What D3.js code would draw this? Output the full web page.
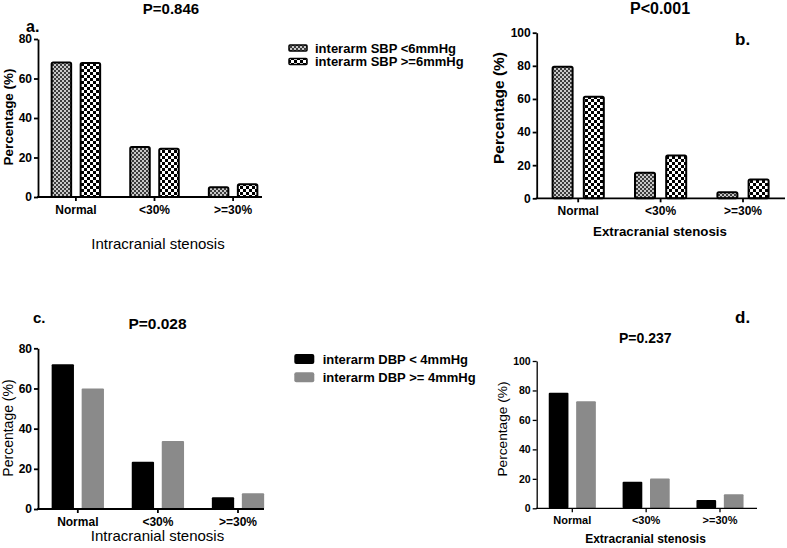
<!DOCTYPE html>
<html>
<head>
<meta charset="utf-8">
<script src="https://cdn.jsdelivr.net/npm/d3@7/dist/d3.min.js"></script>
<style>
  html, body { margin: 0; padding: 0; background: #fff; }
  svg { display: block; font-family: "Liberation Sans", Arial, sans-serif; }
</style>
</head>
<body>
<svg id="chart" width="787" height="548"></svg>
<script>
// ---------------- DATA ----------------
const categories = ["Normal", "<30%", ">=30%"];

const sbpSeries = ["interarm SBP <6mmHg", "interarm SBP >=6mmHg"];
const dbpSeries = ["interarm DBP < 4mmHg", "interarm DBP >= 4mmHg"];

// panel a: intracranial stenosis by interarm SBP
const aLow  = [68.6, 25.8, 5.5];
const aHigh = [68.3, 25.0, 7.0];
// panel b: extracranial stenosis by interarm SBP
const bLow  = [80.0, 16.0, 4.2];
const bHigh = [62.0, 26.5, 12.0];
// panel c: intracranial stenosis by interarm DBP
const cLow  = [72.0, 23.5, 5.8];
const cHigh = [60.0, 33.8, 7.8];
// panel d: extracranial stenosis by interarm DBP
const dLow  = [78.5, 18.0, 5.6];
const dHigh = [72.6, 20.3, 9.5];

const ticks80  = [0, 20, 40, 60, 80];
const ticks100 = [0, 20, 40, 60, 80, 100];

const pValues = ["P=0.846", "P<0.001", "P=0.028", "P=0.237"];
const panelLetters = ["a.", "b.", "c.", "d."];
const xTitles = ["Intracranial stenosis", "Extracranial stenosis", "Intracranial stenosis", "Extracranial stenosis"];
const yTitle = "Percentage (%)";

// ---------------- LAYOUT ----------------
const svg = d3.select("#chart");
const defs = svg.append("defs");

// fine grey checker pattern
const p1 = defs.append("pattern").attr("id", "patFine")
  .attr("patternUnits", "userSpaceOnUse").attr("width", 4).attr("height", 4);
p1.append("rect").attr("width", 4).attr("height", 4).attr("fill", "#c8c8c8");
p1.append("rect").attr("width", 2).attr("height", 2).attr("fill", "#3c3c3c");
p1.append("rect").attr("x", 2).attr("y", 2).attr("width", 2).attr("height", 2).attr("fill", "#3c3c3c");

// coarse black/white checker pattern
const p2 = defs.append("pattern").attr("id", "patCoarse")
  .attr("patternUnits", "userSpaceOnUse").attr("width", 6).attr("height", 6);
p2.append("rect").attr("width", 6).attr("height", 6).attr("fill", "#ffffff");
p2.append("rect").attr("width", 3).attr("height", 3).attr("fill", "#000");
p2.append("rect").attr("x", 3).attr("y", 3).attr("width", 3).attr("height", 3).attr("fill", "#000");

const panels = [
  { low: aLow, high: aHigh, ticks: ticks80, yMax: 80, x0: 38, xEnd: 262, y0: 197, yTop: 39,
    c0: 75.9, step: 78.6, pairW: 50.5, gap: 7.5, fills: ["url(#patFine)", "url(#patCoarse)"], stroke: true,
    tickFont: 12, xTickFont: 12, axisW: 1.8,
    title: { x: 171, y: 13.5, size: 15 }, letter: { x: 26, y: 32, size: 16 },
    xt: { x: 158, y: 249, size: 15, weight: "normal" },
    yt: { x: 8, y: 117, size: 13.4, weight: "bold" } },
  { low: bLow, high: bHigh, ticks: ticks100, yMax: 100, x0: 536.7, xEnd: 785, y0: 198.3, yTop: 32.7,
    c0: 578.2, step: 82.4, pairW: 53.2, gap: 9.2, fills: ["url(#patFine)", "url(#patCoarse)"], stroke: true,
    tickFont: 12, xTickFont: 12, axisW: 1.8,
    title: { x: 660, y: 14, size: 16 }, letter: { x: 735, y: 45, size: 17 },
    xt: { x: 660, y: 236, size: 13.3, weight: "bold" },
    yt: { x: 498, y: 108, size: 15.5, weight: "bold" } },
  { low: cLow, high: cHigh, ticks: ticks80, yMax: 80, x0: 38, xEnd: 264, y0: 509, yTop: 348.3,
    c0: 77.8, step: 80.1, pairW: 52.3, gap: 7.7, fills: ["#000000", "#8a8a8a"], stroke: false,
    tickFont: 12, xTickFont: 12, axisW: 1.8,
    title: { x: 157.5, y: 329, size: 15.5 }, letter: { x: 33, y: 323, size: 15 },
    xt: { x: 157.5, y: 541, size: 15, weight: "normal" },
    yt: { x: 8, y: 428, size: 14, weight: "normal" } },
  { low: dLow, high: dHigh, ticks: ticks100, yMax: 100, x0: 536.7, xEnd: 757, y0: 508.3, yTop: 361,
    c0: 572.3, step: 73.85, pairW: 47.1, gap: 7.7, fills: ["#000000", "#8a8a8a"], stroke: false,
    tickFont: 10.5, xTickFont: 11, axisW: 1.3,
    title: { x: 645.3, y: 343, size: 14 }, letter: { x: 735, y: 323, size: 17 },
    xt: { x: 645.5, y: 543, size: 12, weight: "bold" },
    yt: { x: 502, y: 429, size: 13.7, weight: "normal" } }
];

panels.forEach((p, i) => {
  const g = svg.append("g");
  const y = d3.scaleLinear().domain([0, p.yMax]).range([p.y0, p.yTop]);
  const x = d3.scaleBand().domain(categories)
    .range([p.c0 - p.step / 2, p.c0 + p.step * 2.5]).padding(0);
  const barW = (p.pairW - p.gap) / 2;
  const barX = (cat, s) => x(cat) + x.bandwidth() / 2 + (s === 0 ? -p.pairW / 2 : p.gap / 2);

  const rows = [];
  categories.forEach((c, k) => {
    rows.push({ cat: c, s: 0, v: p.low[k] });
    rows.push({ cat: c, s: 1, v: p.high[k] });
  });

  const sw = p.stroke ? 2 : 0;
  g.selectAll("rect.bar").data(rows).join("rect")
    .attr("class", "bar")
    .attr("x", d => barX(d.cat, d.s) + sw / 2)
    .attr("width", barW - sw)
    .attr("y", d => y(d.v) + sw / 2)
    .attr("height", d => y(0) - y(d.v) - sw / 2)
    .attr("fill", d => p.fills[d.s])
    .attr("stroke", p.stroke ? "#000" : "none")
    .attr("stroke-width", sw)
    .attr("rx", p.stroke ? 1.5 : 1);

  // y axis
  const ya = g.append("g").attr("transform", `translate(${p.x0},0)`)
    .call(d3.axisLeft(y).tickValues(p.ticks).tickSize(4).tickSizeOuter(0).tickPadding(2));
  ya.select(".domain").attr("stroke-width", p.axisW);
  ya.selectAll(".tick line").attr("stroke-width", p.axisW);
  ya.selectAll(".tick text").attr("font-size", p.tickFont).attr("font-weight", "bold")
    .attr("font-family", "Liberation Sans, Arial, sans-serif").attr("fill", "#000");

  // x axis
  const xa = g.append("g").attr("transform", `translate(0,${p.y0})`)
    .call(d3.axisBottom(x).tickSize(4).tickSizeOuter(0).tickPadding(4));
  xa.select(".domain").remove();
  xa.selectAll(".tick line").attr("stroke-width", p.axisW);
  xa.selectAll(".tick text").attr("font-size", p.xTickFont).attr("font-weight", "bold")
    .attr("font-family", "Liberation Sans, Arial, sans-serif").attr("fill", "#000");
  xa.append("line").attr("x1", p.x0 - p.axisW / 2).attr("x2", p.xEnd)
    .attr("y1", 0).attr("y2", 0).attr("stroke", "#000").attr("stroke-width", p.axisW);

  // titles
  g.append("text").attr("x", p.title.x).attr("y", p.title.y).attr("text-anchor", "middle")
    .attr("font-size", p.title.size).attr("font-weight", "bold").text(pValues[i]);
  g.append("text").attr("x", p.letter.x).attr("y", p.letter.y)
    .attr("font-size", p.letter.size).attr("font-weight", "bold").text(panelLetters[i]);
  g.append("text").attr("x", p.xt.x).attr("y", p.xt.y).attr("text-anchor", "middle")
    .attr("font-size", p.xt.size).attr("font-weight", p.xt.weight).text(xTitles[i]);
  g.append("text").attr("transform", `translate(${p.yt.x},${p.yt.y}) rotate(-90)`)
    .attr("text-anchor", "middle").attr("dominant-baseline", "central")
    .attr("font-size", p.yt.size).attr("font-weight", p.yt.weight).text(yTitle);
});

// legends
const legTop = svg.append("g");
sbpSeries.forEach((s, k) => {
  legTop.append("rect").attr("x", 289).attr("y", 45 + k * 13.6).attr("width", 18).attr("height", 6)
    .attr("fill", k === 0 ? "url(#patFine)" : "url(#patCoarse)")
    .attr("stroke", "#000").attr("stroke-width", 1.5).attr("rx", 1);
  legTop.append("text").attr("x", 315).attr("y", 48 + k * 13.6).attr("dominant-baseline", "central")
    .attr("font-size", 13).attr("font-weight", "bold").text(s);
});
const legBot = svg.append("g");
const dbpFills = ["#000000", "#8a8a8a"];
dbpSeries.forEach((s, k) => {
  legBot.append("rect").attr("x", 294.3).attr("y", 354 + k * 18.3).attr("width", 20).attr("height", 10)
    .attr("fill", dbpFills[k]).attr("rx", 2);
  legBot.append("text").attr("x", 322.7).attr("y", 359.5 + k * 18.3).attr("dominant-baseline", "central")
    .attr("font-size", 13).attr("font-weight", "bold").text(s);
});
</script>
</body>
</html>
